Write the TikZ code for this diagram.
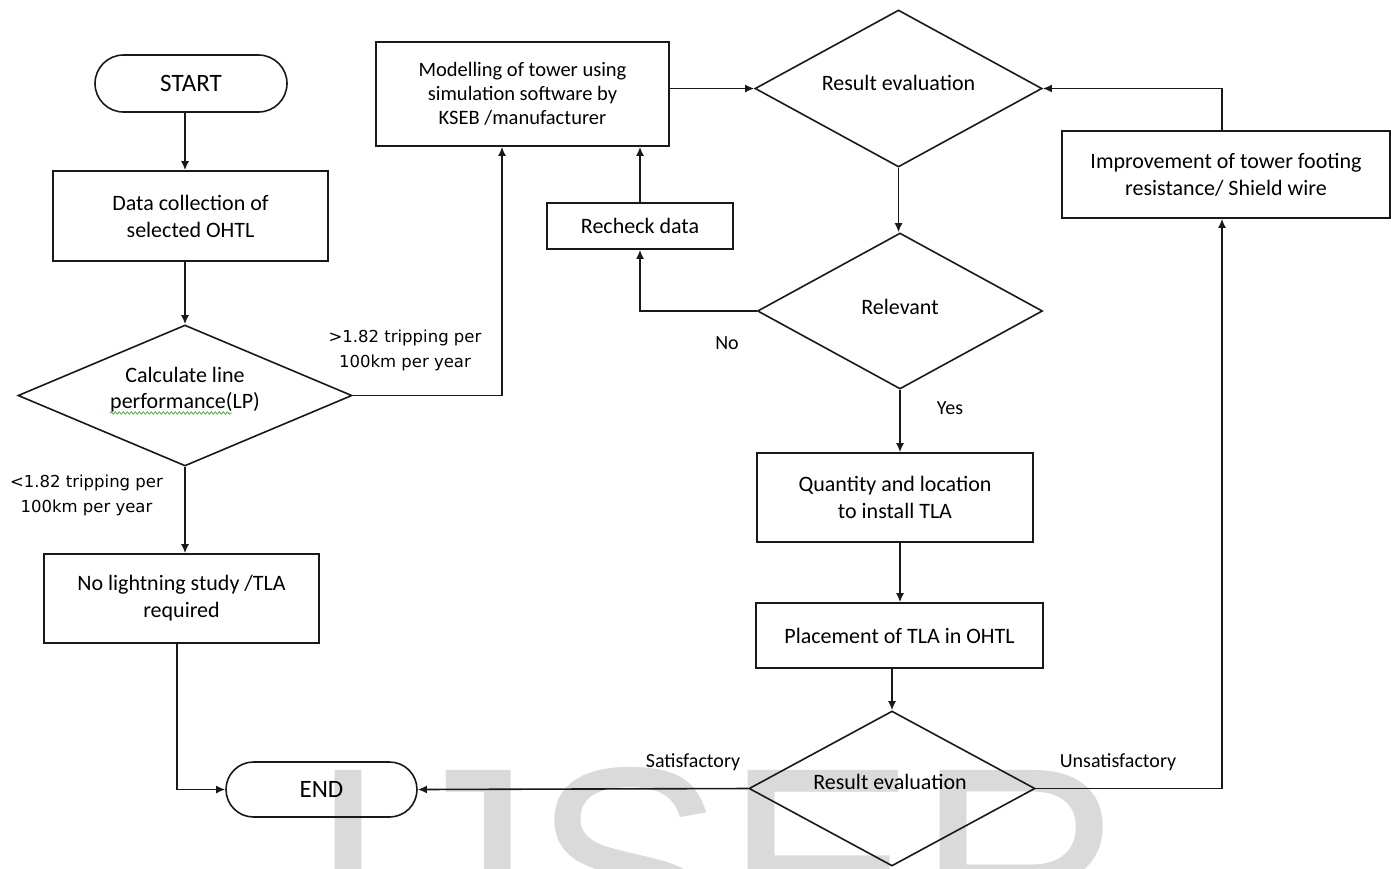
\documentclass[tikz,border=0pt]{standalone}
\usepackage{fontspec}
\setmainfont{Carlito}
\newfontfamily\dejavu{DejaVu Sans}
\newfontfamily\wmfont{Liberation Sans}
\usetikzlibrary{shapes.geometric,shapes.misc,arrows.meta,decorations.pathmorphing}
\definecolor{wmgray}{RGB}{218,218,218}
\definecolor{inkc}{RGB}{25,25,25}
\definecolor{spellgreen}{RGB}{90,170,70}
\tikzset{
  box/.style={draw=inkc, line width=1.6pt, align=center, inner sep=0pt, font=\fontsize{22}{27}\selectfont},
  dia/.style={draw=inkc, diamond, shape aspect=2, inner sep=0pt, line width=1.6pt},
  diatext/.style={align=center, inner sep=0pt, font=\fontsize{22}{26}\selectfont},
  term/.style={draw=inkc, rounded rectangle, line width=1.6pt, inner sep=0pt, font=\fontsize{25}{30}\selectfont},
  lab/.style={inner sep=0pt, font=\fontsize{20}{24}\selectfont},
  trip/.style={inner sep=0pt, align=center, font=\dejavu\fontsize{16.5}{25}\selectfont},
  arr/.style={draw=inkc, -{Latex[length=9pt,width=8pt]}, line width=1.6pt},
  ln/.style={draw=inkc, line width=1.6pt}
}
\begin{document}
\begin{tikzpicture}[x=1pt,y=-1pt]
\useasboundingbox (0,0) rectangle (1391,868);
% watermark
\begin{scope}
  \clip (0,0) rectangle (1391,868);
  \node[anchor=base west, inner sep=0pt, text=wmgray, font=\wmfont\fontsize{288}{288}\selectfont] (wm) at (308,968) {IJSER};
\end{scope}

% nodes
\node[term, minimum width=192pt, minimum height=57pt] (start) at (191,83.5) {START};
\node[box, minimum width=275pt, minimum height=90pt] (data) at (190.5,216) {Data collection of\\selected OHTL};
\node[dia, minimum width=334pt, minimum height=141pt] (calc) at (185,395.5) {};
\node[diatext] (calct) at (185,390) {Calculate line\\performance(LP)};
\node[box, minimum width=275pt, minimum height=89pt] (nolt) at (181.5,598.5) {No lightning study /TLA\\required};
\node[term, minimum width=191pt, minimum height=55pt] (endn) at (321.5,789.5) {END};

\node[box, minimum width=293pt, minimum height=104pt, font=\fontsize{20.5}{24}\selectfont] (model) at (522.5,94) {Modelling of tower using\\simulation software by\\KSEB /manufacturer};
\node[dia, minimum width=287pt, minimum height=157pt] (rev1) at (898.5,88.5) {};
\node[diatext] (rev1t) at (898.5,83) {Result evaluation};
\node[box, minimum width=186pt, minimum height=46pt] (recheck) at (640,226) {Recheck data};
\node[dia, minimum width=285pt, minimum height=156pt] (relev) at (900,311) {};
\node[diatext] (relevt) at (900,307) {Relevant};
\node[box, minimum width=276pt, minimum height=89pt] (quant) at (895,497.5) {Quantity and location\\to install TLA};
\node[box, minimum width=287pt, minimum height=65pt] (place) at (899.5,635.5) {Placement of TLA in OHTL};
\node[dia, minimum width=286pt, minimum height=155pt] (rev2) at (892,788.5) {};
\node[diatext] (rev2t) at (890,782) {Result evaluation};
\node[box, minimum width=328pt, minimum height=87pt] (impr) at (1226,174.5) {Improvement of tower footing\\resistance/ Shield wire};

% spell-check underline
\draw[spellgreen, line width=0.8pt, decorate, decoration={snake, amplitude=1.2pt, segment length=4pt}] (110,413) -- (232,413);

% labels
\node[trip] (trip1) at (405,350.5) {>1.82 tripping per\\100km per year};
\node[trip] (trip2) at (86.5,495.5) {<1.82 tripping per\\100km per year};
\node[lab] (no) at (727,343) {No};
\node[lab] (yes) at (950,408) {Yes};
\node[lab] (sat) at (693,762) {Satisfactory};
\node[lab] (unsat) at (1118,762) {Unsatisfactory};

% connectors
\draw[arr] (start.south -| calc.north) -- (data.north -| calc.north);
\draw[arr] (data.south -| calc.north) -- (calc.north);
\draw[arr] (calc.south) -- (calc.south |- nolt.north);
\draw[arr] ([xshift=-4.5pt]nolt.south) |- (endn.west);
\draw[arr] (calc.east) -| ([xshift=-20.5pt]model.south);
\draw[arr] (recheck.north) -- (recheck.north |- model.south);
\draw[arr] (relev.west) -| (recheck.south);
\draw[arr] (model.east |- rev1.west) -- (rev1.west);
\draw[arr] (rev1.south) -- (rev1.south |- relev.north);
\draw[arr] (relev.south) -- (relev.south |- quant.north);
\draw[arr] (quant.south -| relev.south) -- (place.north -| relev.south);
\draw[arr] (place.south -| rev2.north) -- (rev2.north);
\draw[arr] (rev2.west) -- (endn.east);
\draw[arr] (rev2.east) -| ([xshift=-4pt]impr.south);
\draw[arr] ([xshift=-4pt]impr.north) |- (rev1.east);
\end{tikzpicture}
\end{document}
